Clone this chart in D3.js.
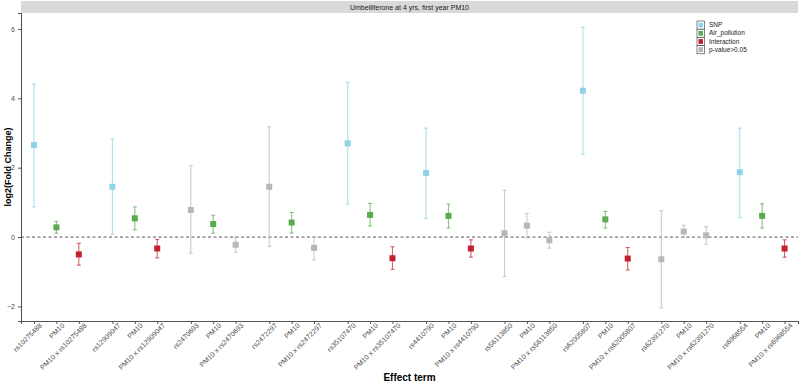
<!DOCTYPE html>
<html>
<head>
<meta charset="utf-8">
<script src="https://cdn.jsdelivr.net/npm/d3@7"></script>
<style>
  body { margin: 0; background: #fff; }
  svg { font-family: 'Liberation Sans', Arial, sans-serif; }
</style>
</head>
<body>
<div id="wrapper"></div>
<script>
// Data
const snps = ['rs10275488', 'rs12909047', 'rs2470693', 'rs2472297', 'rs35107470',
  'rs4410790', 'rs56113850', 'rs62005807', 'rs62391270', 'rs6968554'];

// per snp: [SNP, PM10, interaction]
const estimates = [
  [2.65, 0.28, -0.50], [1.45, 0.54, -0.33], [0.78, 0.375, -0.22], [1.45, 0.42, -0.31],
  [2.70, 0.64, -0.61], [1.85, 0.61, -0.33], [0.11, 0.33, -0.09], [4.22, 0.51, -0.62],
  [-0.64, 0.16, 0.05], [1.87, 0.61, -0.33]
];
const lowers = [
  [0.87, 0.11, -0.81], [0.08, 0.21, -0.60], [-0.47, 0.11, -0.44], [-0.27, 0.12, -0.66],
  [0.95, 0.32, -0.93], [0.54, 0.26, -0.58], [-1.14, -0.02, -0.32], [2.39, 0.26, -0.95],
  [-2.04, -0.01, -0.21], [0.56, 0.26, -0.58]
];
const uppers = [
  [4.41, 0.45, -0.18], [2.82, 0.87, -0.07], [2.06, 0.63, 0.0], [3.18, 0.71, 0.0],
  [4.46, 0.97, -0.28], [3.14, 0.95, -0.08], [1.35, 0.68, 0.14], [6.05, 0.74, -0.30],
  [0.76, 0.34, 0.30], [3.14, 0.96, -0.08]
];
// significance category per term
const groups = [
  ['SNP', 'Air_pollution', 'Interaction'], ['SNP', 'Air_pollution', 'Interaction'],
  ['ns', 'Air_pollution', 'ns'], ['ns', 'Air_pollution', 'ns'],
  ['SNP', 'Air_pollution', 'Interaction'], ['SNP', 'Air_pollution', 'Interaction'],
  ['ns', 'ns', 'ns'], ['SNP', 'Air_pollution', 'Interaction'],
  ['ns', 'ns', 'ns'], ['SNP', 'Air_pollution', 'Interaction']
];
const legendKeys = ['SNP', 'Air_pollution', 'Interaction', 'ns'];
const legendLabels = ['SNP', 'Air_pollution', 'Interaction', 'p-value>0.05'];
const yTicks = [-2, 0, 2, 4, 6];

const colors = { SNP: '#8fd3e6', Air_pollution: '#5aab4f', Interaction: '#c3212e', ns: '#b7b7b7' };

const data = [];
snps.forEach((s, i) => {
  const terms = [s, 'PM10', 'PM10 x ' + s];
  terms.forEach((t, j) => {
    data.push({
      pos: i * 3.5 + j,
      label: t,
      est: estimates[i][j],
      lo: lowers[i][j],
      hi: uppers[i][j],
      group: groups[i][j]
    });
  });
});

// Dimensions
const dimensions = {
  width: 800,
  height: 385,
  margin: { top: 13, right: 2, bottom: 64, left: 21 }
};
dimensions.boundedWidth = dimensions.width - dimensions.margin.left - dimensions.margin.right;
dimensions.boundedHeight = dimensions.height - dimensions.margin.top - dimensions.margin.bottom;

// Scales
const xScale = d3.scaleLinear()
  .domain([-0.58, 34.1])
  .range([0, dimensions.boundedWidth]);
const yScale = d3.scaleLinear()
  .domain([-2.42, 6.46])
  .range([dimensions.boundedHeight, 0]);

const svg = d3.select('#wrapper').append('svg')
  .attr('width', dimensions.width)
  .attr('height', dimensions.height);

// strip
svg.append('rect')
  .attr('x', dimensions.margin.left).attr('y', 1)
  .attr('width', dimensions.boundedWidth).attr('height', 12)
  .attr('fill', '#d9d9d9');
svg.append('text')
  .attr('x', dimensions.margin.left + dimensions.boundedWidth / 2)
  .attr('y', 10)
  .attr('text-anchor', 'middle')
  .attr('fill', '#1a1a1a')
  .style('font-size', '7px')
  .text('Umbelliferone at 4 yrs, first year PM10');

const bounds = svg.append('g')
  .attr('transform', `translate(${dimensions.margin.left}, ${dimensions.margin.top})`);

// zero line
bounds.append('line')
  .attr('x1', 0).attr('x2', dimensions.boundedWidth)
  .attr('y1', yScale(0)).attr('y2', yScale(0))
  .attr('stroke', '#444').attr('stroke-width', 0.9)
  .attr('stroke-dasharray', '3,2.5');

// Axes
const yAxis = d3.axisLeft(yScale).tickValues(yTicks).tickSize(3).tickPadding(3);
const yG = bounds.append('g').call(yAxis);
yG.select('.domain').attr('stroke', '#555').attr('stroke-width', 1.1);
yG.selectAll('.tick line').attr('stroke', '#555');
yG.selectAll('.tick text').attr('fill', '#4d4d4d').style('font-size', '7px');

const xAxis = d3.axisBottom(xScale)
  .tickValues(data.map(d => d.pos))
  .tickFormat((v, i) => data[i].label)
  .tickSize(3).tickPadding(2);
const xG = bounds.append('g')
  .attr('transform', `translate(0, ${dimensions.boundedHeight})`)
  .call(xAxis);
xG.select('.domain').attr('stroke', '#555').attr('stroke-width', 1.1);
xG.selectAll('.tick line').attr('stroke', '#555');
xG.selectAll('.tick text')
  .attr('fill', '#4d4d4d')
  .style('font-size', '7px')
  .attr('text-anchor', 'end')
  .attr('dx', '0.3em')
  .attr('dy', '0.6em')
  .attr('transform', 'rotate(-45)');

// Error bars
const bars = bounds.selectAll('.err').data(data).enter().append('g').attr('class', 'err')
  .attr('stroke', d => colors[d.group])
  .attr('stroke-opacity', 0.7)
  .attr('stroke-width', 1.1);
bars.append('line')
  .attr('x1', d => xScale(d.pos)).attr('x2', d => xScale(d.pos))
  .attr('y1', d => yScale(d.lo)).attr('y2', d => yScale(d.hi));
bars.append('line')
  .attr('x1', d => xScale(d.pos) - 2).attr('x2', d => xScale(d.pos) + 2)
  .attr('y1', d => yScale(d.lo)).attr('y2', d => yScale(d.lo));
bars.append('line')
  .attr('x1', d => xScale(d.pos) - 2).attr('x2', d => xScale(d.pos) + 2)
  .attr('y1', d => yScale(d.hi)).attr('y2', d => yScale(d.hi));

// Points
bounds.selectAll('.pt').data(data).enter().append('rect')
  .attr('class', 'pt')
  .attr('x', d => xScale(d.pos) - 3)
  .attr('y', d => yScale(d.est) - 3)
  .attr('width', 6).attr('height', 6)
  .attr('fill', d => colors[d.group]);

// Axis titles
svg.append('text')
  .attr('x', dimensions.margin.left + dimensions.boundedWidth / 2)
  .attr('y', 381)
  .attr('text-anchor', 'middle')
  .attr('font-weight', 'bold')
  .style('font-size', '10px')
  .text('Effect term');
svg.append('text')
  .attr('transform', `translate(11, ${dimensions.margin.top + dimensions.boundedHeight / 2}) rotate(-90)`)
  .attr('text-anchor', 'middle')
  .attr('font-weight', 'bold')
  .style('font-size', '9px')
  .text('log2(Fold Change)');

// Legend
const legend = svg.append('g').attr('transform', 'translate(697, 21)');
legendKeys.forEach((k, i) => {
  const row = legend.append('g').attr('transform', `translate(0, ${i * 8.2})`);
  row.append('rect').attr('x', 0).attr('y', 0).attr('width', 7.5).attr('height', 8.2)
    .attr('fill', '#fff').attr('stroke', '#333').attr('stroke-width', 0.6);
  row.append('rect').attr('x', 1.5).attr('y', 1.7).attr('width', 4.5).attr('height', 4.8)
    .attr('fill', colors[k]);
  row.append('text').attr('x', 12).attr('y', 6.3)
    .attr('fill', '#1a1a1a').style('font-size', '6.5px')
    .text(legendLabels[i]);
});
</script>
</body>
</html>
